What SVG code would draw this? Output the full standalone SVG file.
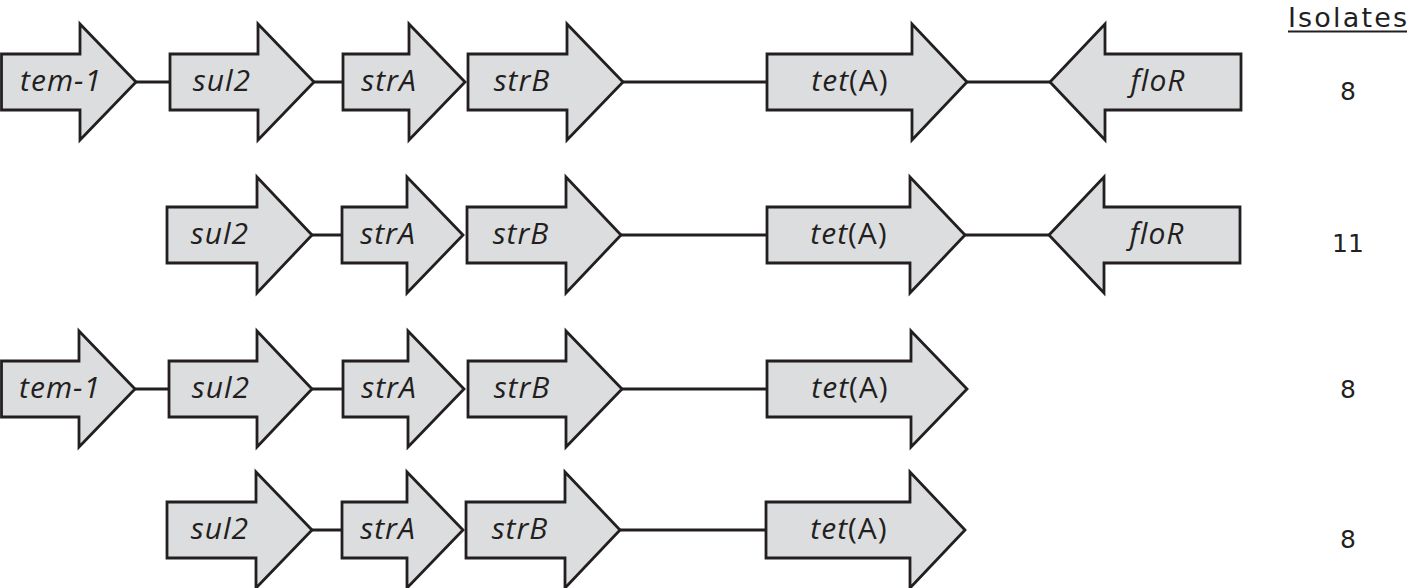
<svg xmlns="http://www.w3.org/2000/svg" width="1408" height="588" viewBox="0 0 1408 588">
<style>
.g{fill:#dcdddf;stroke:#231f20;stroke-width:2.8;stroke-linejoin:miter}
.c{stroke:#231f20;stroke-width:2.8;fill:none}
.t{font-family:"Open Sans","Noto Sans",sans-serif;font-style:italic;font-size:30px;letter-spacing:1px;fill:#231f20;text-anchor:middle}
.u{font-style:normal}
.n{font-family:"DejaVu Sans","Noto Sans",sans-serif;font-size:25px;fill:#231f20;text-anchor:middle}
</style>
<rect width="1408" height="588" fill="#fff"/>
<g id="connectors">
<path class="c" d="M136 82H170M314 82H343M623 82H767M967 82H1050"/>
<path class="c" d="M312 235H342M621 235H767M965 235H1049"/>
<path class="c" d="M135 389H169M312 389H343M622 389H767"/>
<path class="c" d="M312 530H342M620 530H766"/>
</g>
<g id="row1">
<g id="r1-tem1"><path class="g" d="M1.5 54H80V24L136 82L80 140V110H1.5Z"/><text class="t" x="61" y="91">tem-1</text></g>
<g id="r1-sul2"><path class="g" d="M170 54H258V24L314 82L258 140V110H170Z"/><text class="t" x="222" y="91">sul2</text></g>
<g id="r1-strA"><path class="g" d="M343 54H409V24L465 82L409 140V110H343Z"/><text class="t" x="389" y="91">strA</text></g>
<g id="r1-strB"><path class="g" d="M468 54H567V24L623 82L567 140V110H468Z"/><text class="t" x="522" y="91">strB</text></g>
<g id="r1-tetA"><path class="g" d="M767 54H912V24L967 82L912 140V110H767Z"/><text class="t" x="850" y="91">tet<tspan class="u">(A)</tspan></text></g>
<g id="r1-floR"><path class="g" d="M1241 54H1105V24L1050 82L1105 140V110H1241Z"/><text class="t" x="1158" y="91">floR</text></g>
</g>
<g id="row2">
<g id="r2-sul2"><path class="g" d="M167 207H257V177L312 235L257 293V263H167Z"/><text class="t" x="220" y="244">sul2</text></g>
<g id="r2-strA"><path class="g" d="M342 207H407V177L463 235L407 293V263H342Z"/><text class="t" x="388" y="244">strA</text></g>
<g id="r2-strB"><path class="g" d="M467 207H566V177L621 235L566 293V263H467Z"/><text class="t" x="521" y="244">strB</text></g>
<g id="r2-tetA"><path class="g" d="M767 207H910V177L965 235L910 293V263H767Z"/><text class="t" x="849" y="244">tet<tspan class="u">(A)</tspan></text></g>
<g id="r2-floR"><path class="g" d="M1240 207H1104V177L1049 235L1104 293V263H1240Z"/><text class="t" x="1157" y="244">floR</text></g>
</g>
<g id="row3">
<g id="r3-tem1"><path class="g" d="M1.5 361H79V331L135 389L79 447V417H1.5Z"/><text class="t" x="60" y="398">tem-1</text></g>
<g id="r3-sul2"><path class="g" d="M169 361H257V331L312 389L257 447V417H169Z"/><text class="t" x="221" y="398">sul2</text></g>
<g id="r3-strA"><path class="g" d="M343 361H408V331L464 389L408 447V417H343Z"/><text class="t" x="389" y="398">strA</text></g>
<g id="r3-strB"><path class="g" d="M468 361H566V331L622 389L566 447V417H468Z"/><text class="t" x="522" y="398">strB</text></g>
<g id="r3-tetA"><path class="g" d="M767 361H911V331L967 389L911 447V417H767Z"/><text class="t" x="850" y="398">tet<tspan class="u">(A)</tspan></text></g>
</g>
<g id="row4">
<g id="r4-sul2"><path class="g" d="M167 502H256V472L312 530L256 588V558H167Z"/><text class="t" x="220" y="539">sul2</text></g>
<g id="r4-strA"><path class="g" d="M342 502H407V472L463 530L407 588V558H342Z"/><text class="t" x="388" y="539">strA</text></g>
<g id="r4-strB"><path class="g" d="M466 502H565V472L620 530L565 588V558H466Z"/><text class="t" x="520" y="539">strB</text></g>
<g id="r4-tetA"><path class="g" d="M766 502H910V472L965 530L910 588V558H766Z"/><text class="t" x="849" y="539">tet<tspan class="u">(A)</tspan></text></g>
</g>
<g id="isolates">
<text class="n" x="1347.5" y="27" style="font-size:27px" textLength="119" lengthAdjust="spacing">Isolates</text>
<line x1="1288" y1="31.5" x2="1407" y2="31.5" stroke="#231f20" stroke-width="2"/>
<text class="n" x="1348" y="100">8</text>
<text class="n" x="1348" y="252">11</text>
<text class="n" x="1348" y="398">8</text>
<text class="n" x="1348" y="548">8</text>
</g>
</svg>
